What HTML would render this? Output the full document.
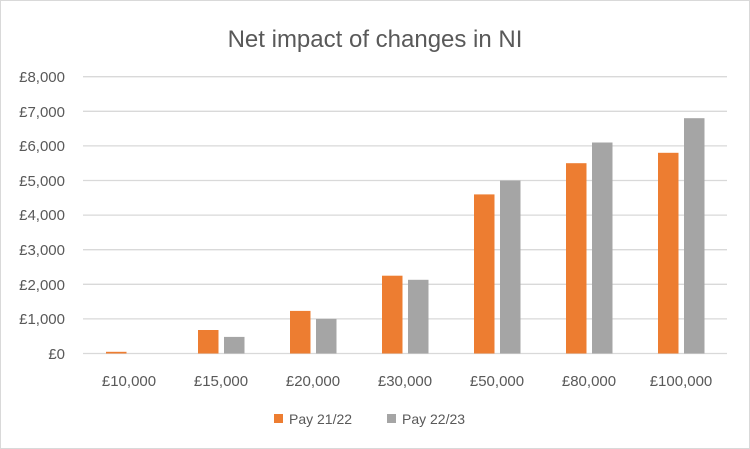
<!DOCTYPE html>
<html><head><style>
body{margin:0;background:#fff;}
svg{display:block;font-family:"Liberation Sans",sans-serif;}
</style></head><body>
<svg width="750" height="449" viewBox="0 0 750 449">
<rect x="0.5" y="0.5" width="749" height="448" fill="#fff" stroke="#d9d9d9"/>
<text x="375" y="47" text-anchor="middle" font-size="24" fill="#595959">Net impact of changes in NI</text>
<g stroke="#d9d9d9" stroke-width="1.3">
<line x1="83" x2="727" y1="76.7" y2="76.7"/>
<line x1="83" x2="727" y1="111.3" y2="111.3"/>
<line x1="83" x2="727" y1="145.9" y2="145.9"/>
<line x1="83" x2="727" y1="180.5" y2="180.5"/>
<line x1="83" x2="727" y1="215.1" y2="215.1"/>
<line x1="83" x2="727" y1="249.7" y2="249.7"/>
<line x1="83" x2="727" y1="284.3" y2="284.3"/>
<line x1="83" x2="727" y1="318.9" y2="318.9"/>
<line x1="83" x2="727" y1="353.5" y2="353.5"/>
</g>
<g font-size="15" fill="#595959" text-anchor="end">
<text x="65" y="82">£8,000</text>
<text x="65" y="117">£7,000</text>
<text x="65" y="151">£6,000</text>
<text x="65" y="186">£5,000</text>
<text x="65" y="220">£4,000</text>
<text x="65" y="255">£3,000</text>
<text x="65" y="290">£2,000</text>
<text x="65" y="324">£1,000</text>
<text x="65" y="359">£0</text>
</g>
<g fill="#ed7d31">
<rect x="106" y="351.8" width="20.5" height="1.7"/>
<rect x="198" y="330" width="20.5" height="23.5"/>
<rect x="290" y="310.9" width="20.5" height="42.6"/>
<rect x="382" y="275.7" width="20.5" height="77.8"/>
<rect x="474" y="194.4" width="20.5" height="159.1"/>
<rect x="566" y="163.2" width="20.5" height="190.3"/>
<rect x="658" y="152.8" width="20.5" height="200.7"/>
</g>
<g fill="#a5a5a5">
<rect x="224" y="336.9" width="20.5" height="16.6"/>
<rect x="316" y="318.9" width="20.5" height="34.6"/>
<rect x="408" y="279.8" width="20.5" height="73.7"/>
<rect x="500" y="180.5" width="20.5" height="173"/>
<rect x="592" y="142.5" width="20.5" height="211"/>
<rect x="684" y="118.2" width="20.5" height="235.3"/>
</g>
<g font-size="15" fill="#595959" text-anchor="middle">
<text x="129" y="386">£10,000</text>
<text x="221" y="386">£15,000</text>
<text x="313" y="386">£20,000</text>
<text x="405" y="386">£30,000</text>
<text x="497" y="386">£50,000</text>
<text x="589" y="386">£80,000</text>
<text x="681" y="386">£100,000</text>
</g>
<rect x="274" y="414" width="9" height="9" fill="#ed7d31"/>
<text x="289" y="424" font-size="14" fill="#595959">Pay 21/22</text>
<rect x="387" y="414" width="9" height="9" fill="#a5a5a5"/>
<text x="402" y="424" font-size="14" fill="#595959">Pay 22/23</text>
</svg>
</body></html>
